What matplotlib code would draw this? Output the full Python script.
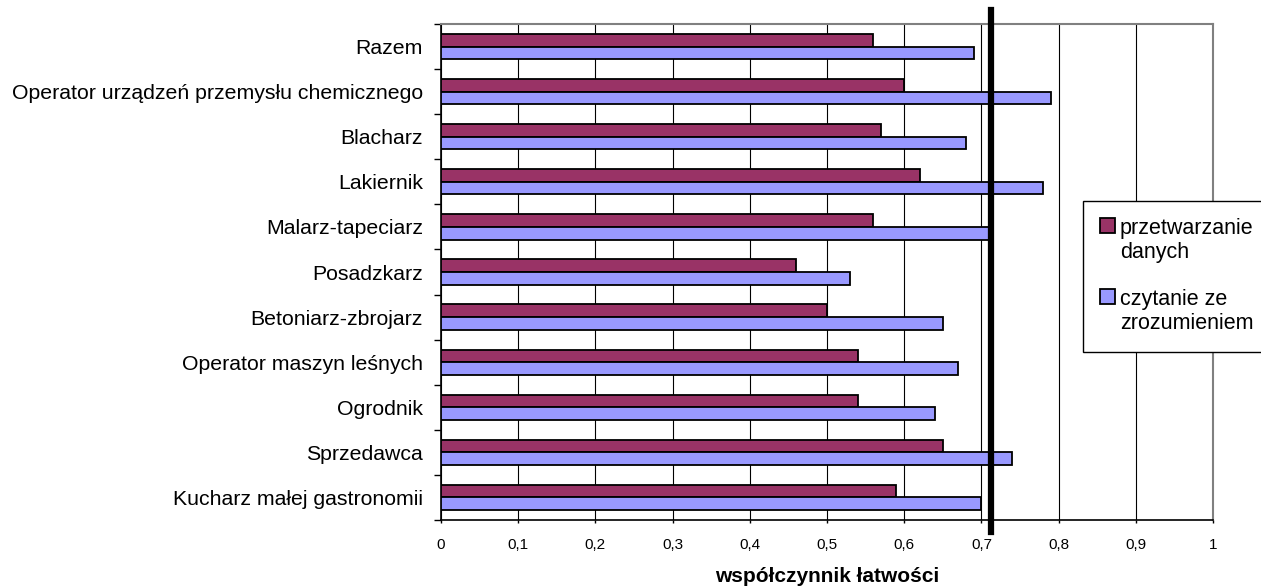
import matplotlib
matplotlib.use("Agg")
import matplotlib.pyplot as plt
import numpy as np

categories = ["Razem", "Operator urządzeń przemysłu chemicznego", "Blacharz", "Lakiernik",
              "Malarz-tapeciarz", "Posadzkarz", "Betoniarz-zbrojarz", "Operator maszyn leśnych",
              "Ogrodnik", "Sprzedawca", "Kucharz małej gastronomii"]
przetwarzanie = [0.56, 0.60, 0.57, 0.62, 0.56, 0.46, 0.50, 0.54, 0.54, 0.65, 0.59]
czytanie = [0.69, 0.79, 0.68, 0.78, 0.71, 0.53, 0.65, 0.67, 0.64, 0.74, 0.70]
series_names = ["przetwarzanie\ndanych", "czytanie ze\nzrozumieniem"]
threshold = 0.712
xticks = [0, 0.1, 0.2, 0.3, 0.4, 0.5, 0.6, 0.7, 0.8, 0.9, 1.0]
xticklabels = ["0", "0,1", "0,2", "0,3", "0,4", "0,5", "0,6", "0,7", "0,8", "0,9", "1"]

plt.rcParams['font.family'] = ['Liberation Sans', 'DejaVu Sans']

W, H = 1261, 587
fig = plt.figure(figsize=(W / 100, H / 100), dpi=100)
ax = fig.add_axes([441 / W, 1 - 520 / H, (1213 - 441) / W, (520 - 24) / H])

y = np.arange(len(categories))
h = 0.28
ax.barh(y - h / 2, przetwarzanie, height=h, color="#993366", edgecolor="black", linewidth=1.3,
        label=series_names[0], zorder=3)
ax.barh(y + h / 2, czytanie, height=h, color="#9999FF", edgecolor="black", linewidth=1.3,
        label=series_names[1], zorder=3)

ax.set_ylim(len(categories) - 0.5, -0.5)
ax.set_xlim(0, 1)
ax.set_xticks(xticks)
ax.set_xticklabels(xticklabels, fontsize=11)
ax.set_yticks(y)
ax.set_yticklabels(categories, fontsize=15.3)
ax.set_yticks(np.arange(-0.5, len(categories), 1), minor=True)
ax.tick_params(axis='y', which='major', length=0, pad=13)
ax.tick_params(axis='y', which='minor', length=5, width=1, color='black', direction='out')
ax.tick_params(axis='x', which='major', length=2.5, width=1, direction='out', pad=10.5)

ax.grid(axis='x', color='black', linewidth=0.8, zorder=0)
ax.set_axisbelow(True)
for s in ['top', 'right']:
    ax.spines[s].set_color('#808080')
    ax.spines[s].set_linewidth(1.5)
for s in ['left', 'bottom']:
    ax.spines[s].set_color('black')
    ax.spines[s].set_linewidth(1.2)

ax.axvline(threshold, ymin=-0.024, ymax=1.028, color='black', linewidth=4.5, clip_on=False, zorder=5)

ax.set_xlabel("współczynnik łatwości", fontsize=15, fontweight='bold', labelpad=11)

leg = fig.legend(loc='upper left', bbox_to_anchor=(1083 / W, 1 - 201 / H), fontsize=15.5,
                 frameon=True, fancybox=False, edgecolor='black', framealpha=1,
                 handlelength=0.7, handleheight=0.7, handletextpad=0.22, labelspacing=1.2,
                 borderpad=0.8, borderaxespad=0)
leg.get_frame().set_linewidth(1.0)
for col in leg._legend_handle_box.get_children():
    for row in col.get_children():
        row.align = 'top'

fig.savefig("out.png", dpi=100)
